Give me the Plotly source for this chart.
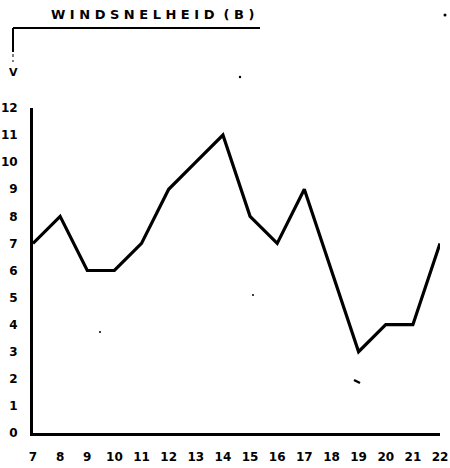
import plotly.graph_objects as go

hours = list(range(7, 23))
wind = [7, 8, 6, 6, 7, 9, 10, 11, 8, 7, 9, 6, 3, 4, 4, 7]
y_ticks = list(range(0, 13))
title_text = "W I N D S N E L H E I D  ( B )"

W, H = 450, 468
L, R, T, B = 33, 10, 108, 35
pw, ph = W - L - R, H - T - B

def px(x):
    return (x - L) / pw

def py(y):
    return (H - B - y) / ph

fig = go.Figure()
fig.add_trace(go.Scatter(x=hours, y=wind, mode="lines",
                         line=dict(color="black", width=3.2),
                         cliponaxis=False, showlegend=False))

font = dict(family="DejaVu Sans", size=12, color="black", weight="bold")

# small specks visible on the scanned original
specks = [(445, 15, 1.5), (240, 77, 1.2), (253, 295, 1.0), (100, 332, 1.0)]
shapes = [
    dict(type="line", xref="paper", yref="paper", x0=px(13), x1=px(260),
         y0=py(28), y1=py(28), line=dict(color="black", width=2)),
    dict(type="line", xref="paper", yref="paper", x0=px(13), x1=px(13),
         y0=py(28), y1=py(52), line=dict(color="black", width=2)),
    dict(type="line", xref="paper", yref="paper", x0=px(13), x1=px(13),
         y0=py(54), y1=py(62), line=dict(color="black", width=1, dash="dot")),
    dict(type="line", xref="paper", yref="paper", x0=px(354), x1=px(360),
         y0=py(380), y1=py(383), line=dict(color="black", width=2.5)),
]
for sx, sy, r in specks:
    shapes.append(dict(type="circle", xref="paper", yref="paper",
                       x0=px(sx - r), x1=px(sx + r), y0=py(sy - r), y1=py(sy + r),
                       fillcolor="black", line=dict(width=0)))

fig.update_layout(
    width=W, height=H,
    margin=dict(l=L, r=R, t=T, b=B, pad=0, autoexpand=False),
    paper_bgcolor="white", plot_bgcolor="white",
    xaxis=dict(range=[7, 22], tickvals=hours, ticktext=[str(h) for h in hours],
               showgrid=False, zeroline=False, showline=True, linecolor="black",
               linewidth=3, ticks="", tickfont=font, ticklabelstandoff=11,
               automargin=False, ticklabeloverflow="allow"),
    yaxis=dict(range=[0, 12], tickvals=y_ticks, ticktext=[str(v) for v in y_ticks],
               showgrid=False, zeroline=False, showline=True, linecolor="black",
               linewidth=3, ticks="", tickfont=font, ticklabelstandoff=10,
               automargin=False, ticklabeloverflow="allow"),
    shapes=shapes,
    annotations=[
        dict(text=title_text, xref="paper", yref="paper", x=px(152), y=py(15),
             xanchor="center", yanchor="middle",
             showarrow=False, font=dict(family="DejaVu Sans", size=13, color="black", weight="bold")),
        dict(text="V", xref="paper", yref="paper", x=px(13), y=py(72),
             xanchor="center", yanchor="middle",
             showarrow=False, font=dict(family="DejaVu Sans", size=11, color="black", weight="bold")),
    ],
)

fig.write_html("out.html", config={"displayModeBar": False},
               post_script="document.body.style.margin='0';")
